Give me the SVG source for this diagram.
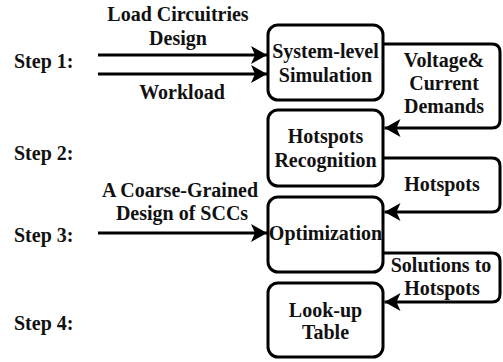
<svg xmlns="http://www.w3.org/2000/svg" width="503" height="362" viewBox="0 0 503 362">
  <defs>
    <marker id="arrow" markerUnits="userSpaceOnUse" markerWidth="16" markerHeight="18" viewBox="0 0 16 18" refX="16" refY="9" orient="auto">
      <path d="M0,0 L16,9 L0,18 L4,9 Z" fill="#000"/>
    </marker>
  </defs>
  <style>
    text { font-family: 'Liberation Serif', Tinos, 'Times New Roman', 'DejaVu Serif', serif; font-weight: 700; font-size: 20px; fill: #111; }
    .mid { text-anchor: middle; }
    .box { fill: #fff; stroke: #000; stroke-width: 3; }
    .link { fill: none; stroke: #000; stroke-width: 3; marker-end: url(#arrow); }
  </style>
  <rect width="503" height="362" fill="#fff"/>

  <!-- step labels -->
  <g id="steps">
    <text x="14" y="68">Step 1:</text>
    <text x="14" y="160">Step 2:</text>
    <text x="14" y="242">Step 3:</text>
    <text x="14" y="330">Step 4:</text>
  </g>

  <!-- connectors -->
  <g id="connectors">
    <path class="link" d="M98,55 H267"/>
    <path class="link" d="M98,74 H267"/>
    <path class="link" d="M98,233 H267"/>
    <path class="link" d="M383,44 H492 Q500,44 500,52 V120 Q500,128 492,128 H384.5"/>
    <path class="link" d="M383,158 H492 Q500,158 500,166 V204 Q500,212 492,212 H384.5"/>
    <path class="link" d="M383,253 H492 Q500,253 500,261 V294 Q500,302 492,302 H384.5"/>
    <text class="mid" x="178" y="21">Load Circuitries</text>
    <text class="mid" x="178" y="45">Design</text>
    <text class="mid" x="182" y="99">Workload</text>
    <text class="mid" x="180" y="197">A Coarse-Grained</text>
    <text class="mid" x="182" y="220">Design of SCCs</text>
    <text class="mid" x="444" y="67">Voltage&amp;</text>
    <text class="mid" x="444" y="90">Current</text>
    <text class="mid" x="444" y="113">Demands</text>
    <text class="mid" x="442" y="191">Hotspots</text>
    <text class="mid" x="441" y="272">Solutions to</text>
    <text class="mid" x="442" y="295">Hotspots</text>
  </g>

  <!-- nodes -->
  <g id="simulation">
    <rect class="box" x="268" y="25" width="115" height="75" rx="10"/>
    <text class="mid" x="325.5" y="58">System-level</text>
    <text class="mid" x="325.5" y="82">Simulation</text>
  </g>
  <g id="recognition">
    <rect class="box" x="268" y="110" width="115" height="76" rx="10"/>
    <text class="mid" x="325.5" y="143">Hotspots</text>
    <text class="mid" x="325.5" y="167">Recognition</text>
  </g>
  <g id="optimization">
    <rect class="box" x="268" y="197" width="115" height="75" rx="10"/>
    <text class="mid" x="325.5" y="240">Optimization</text>
  </g>
  <g id="lookup">
    <rect class="box" x="268" y="283" width="115" height="74" rx="10"/>
    <text class="mid" x="325.5" y="317">Look-up</text>
    <text class="mid" x="325.5" y="339">Table</text>
  </g>
</svg>
